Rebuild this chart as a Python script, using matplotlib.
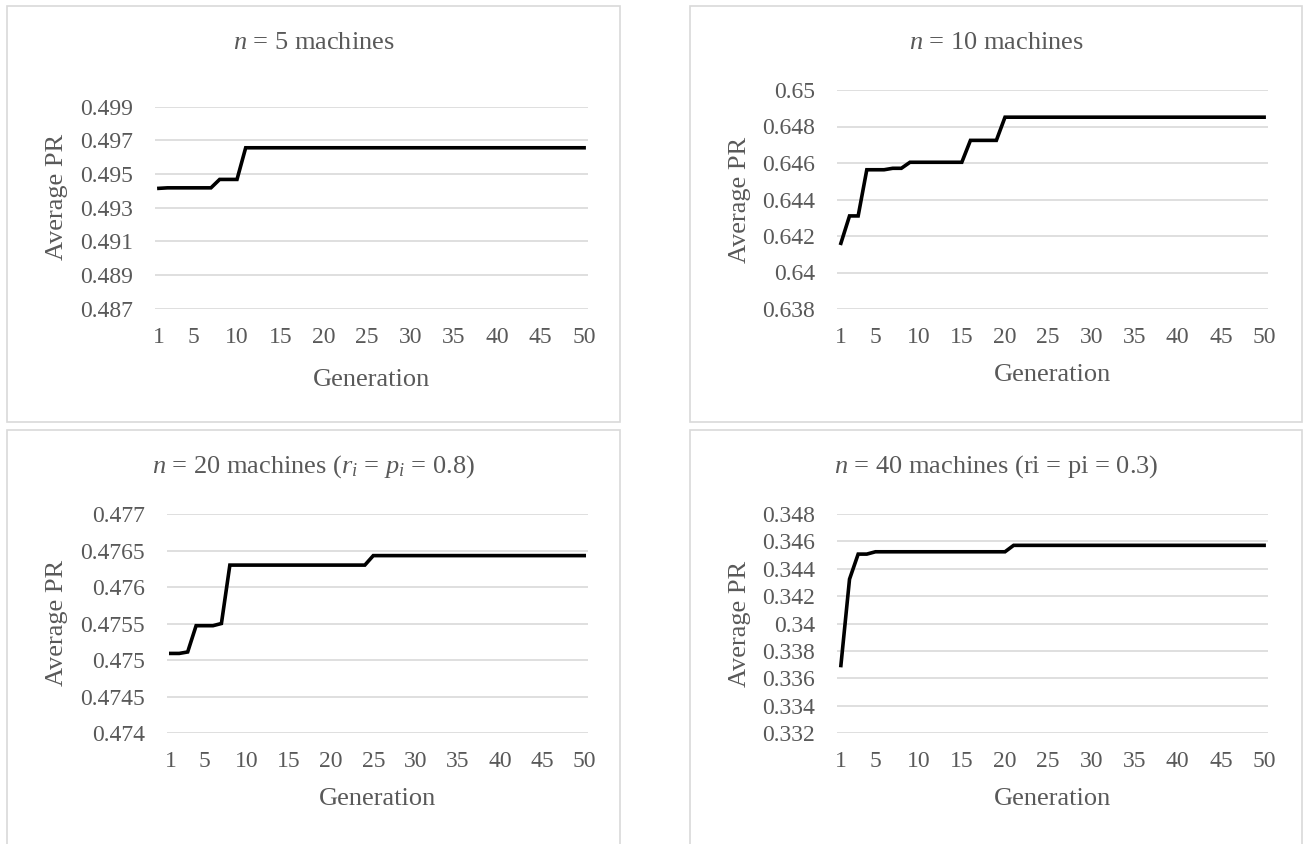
import matplotlib
matplotlib.use("Agg")
import matplotlib.pyplot as plt
from matplotlib.patches import Rectangle

# ---- data (average PR per generation) ----
generations = list(range(1, 51))
xtick_values = [1, 5, 10, 15, 20, 25, 30, 35, 40, 45, 50]

pr_n5 = [
    0.49415, 0.49418, 0.49418, 0.49418, 0.49418, 0.49418, 0.49418, 0.49468, 0.49468, 0.49468,
    0.49656, 0.49656, 0.49656, 0.49656, 0.49656, 0.49656, 0.49656, 0.49656, 0.49656, 0.49656,
    0.49656, 0.49656, 0.49656, 0.49656, 0.49656, 0.49656, 0.49656, 0.49656, 0.49656, 0.49656,
    0.49656, 0.49656, 0.49656, 0.49656, 0.49656, 0.49656, 0.49656, 0.49656, 0.49656, 0.49656,
    0.49656, 0.49656, 0.49656, 0.49656, 0.49656, 0.49656, 0.49656, 0.49656, 0.49656, 0.49656,
]
pr_n10 = [
    0.64160, 0.64310, 0.64310, 0.64563, 0.64563, 0.64563, 0.64571, 0.64571, 0.64604, 0.64604,
    0.64604, 0.64604, 0.64604, 0.64604, 0.64604, 0.64724, 0.64724, 0.64724, 0.64724, 0.64851,
    0.64851, 0.64851, 0.64851, 0.64851, 0.64851, 0.64851, 0.64851, 0.64851, 0.64851, 0.64851,
    0.64851, 0.64851, 0.64851, 0.64851, 0.64851, 0.64851, 0.64851, 0.64851, 0.64851, 0.64851,
    0.64851, 0.64851, 0.64851, 0.64851, 0.64851, 0.64851, 0.64851, 0.64851, 0.64851, 0.64851,
]
pr_n20 = [
    0.47509, 0.47509, 0.47511, 0.47547, 0.47547, 0.47547, 0.47550, 0.47630, 0.47630, 0.47630,
    0.47630, 0.47630, 0.47630, 0.47630, 0.47630, 0.47630, 0.47630, 0.47630, 0.47630, 0.47630,
    0.47630, 0.47630, 0.47630, 0.47630, 0.47643, 0.47643, 0.47643, 0.47643, 0.47643, 0.47643,
    0.47643, 0.47643, 0.47643, 0.47643, 0.47643, 0.47643, 0.47643, 0.47643, 0.47643, 0.47643,
    0.47643, 0.47643, 0.47643, 0.47643, 0.47643, 0.47643, 0.47643, 0.47643, 0.47643, 0.47643,
]
pr_n40 = [
    0.33693, 0.34324, 0.34507, 0.34507, 0.34524, 0.34524, 0.34524, 0.34524, 0.34524, 0.34524,
    0.34524, 0.34524, 0.34524, 0.34524, 0.34524, 0.34524, 0.34524, 0.34524, 0.34524, 0.34524,
    0.34571, 0.34571, 0.34571, 0.34571, 0.34571, 0.34571, 0.34571, 0.34571, 0.34571, 0.34571,
    0.34571, 0.34571, 0.34571, 0.34571, 0.34571, 0.34571, 0.34571, 0.34571, 0.34571, 0.34571,
    0.34571, 0.34571, 0.34571, 0.34571, 0.34571, 0.34571, 0.34571, 0.34571, 0.34571, 0.34571,
]

yticks_n5 = [0.487, 0.489, 0.491, 0.493, 0.495, 0.497, 0.499]
ytick_labels_n5 = ["0.487", "0.489", "0.491", "0.493", "0.495", "0.497", "0.499"]
yticks_n10 = [0.638, 0.640, 0.642, 0.644, 0.646, 0.648, 0.650]
ytick_labels_n10 = ["0.638", "0.64", "0.642", "0.644", "0.646", "0.648", "0.65"]
yticks_n20 = [0.474, 0.4745, 0.475, 0.4755, 0.476, 0.4765, 0.477]
ytick_labels_n20 = ["0.474", "0.4745", "0.475", "0.4755", "0.476", "0.4765", "0.477"]
yticks_n40 = [0.332, 0.334, 0.336, 0.338, 0.340, 0.342, 0.344, 0.346, 0.348]
ytick_labels_n40 = ["0.332", "0.334", "0.336", "0.338", "0.34", "0.342", "0.344", "0.346", "0.348"]

titles = [
    r"$n$ = 5 machines",
    r"$n$ = 10 machines",
    r"$n$ = 20 machines ($r_i$ = $p_i$ = 0.8)",
    r"$n$ = 40 machines (ri = pi = 0.3)",
]

# ---- style ----
W, H = 1304, 844
text_color = "#595959"
grid_color = "#D9D9D9"
plt.rcParams["font.family"] = ["Liberation Serif", "DejaVu Serif"]
plt.rcParams["mathtext.fontset"] = "custom"
plt.rcParams["mathtext.rm"] = "Liberation Serif"
plt.rcParams["mathtext.it"] = "Liberation Serif:italic"

fig = plt.figure(figsize=(W / 100, H / 100), dpi=100)

# chart boxes (pixels: left, top, right, bottom)
boxes = [(7, 6, 620, 422), (690, 6, 1302, 422), (7, 430, 620, 846), (690, 430, 1302, 846)]
# plot areas (pixels: left, top, right, bottom)
areas = [(155, 106.7, 588, 308.7), (837, 90, 1268, 309), (167, 514, 588, 733), (837, 514, 1268, 733)]
title_y = [43, 43, 467, 467]
xlabel_y = [380, 375, 799, 799]
ylabel_y = [197, 200, 623, 624]

series = [pr_n5, pr_n10, pr_n20, pr_n40]
yticks = [yticks_n5, yticks_n10, yticks_n20, yticks_n40]
ylabels = [ytick_labels_n5, ytick_labels_n10, ytick_labels_n20, ytick_labels_n40]

for i in range(4):
    bl, bt, br, bb = boxes[i]
    fig.patches.append(Rectangle((bl / W, 1 - bb / H), (br - bl) / W, (bb - bt) / H,
                                 transform=fig.transFigure, fill=False,
                                 edgecolor=grid_color, linewidth=1.2))
    l, t, r, b = areas[i]
    ax = fig.add_axes([l / W, 1 - b / H, (r - l) / W, (b - t) / H])
    ax.plot(generations, series[i], color="black", linewidth=2.6, solid_joinstyle="miter")
    ax.set_xlim(0.55, 50.45)
    ax.set_ylim(yticks[i][0], yticks[i][-1])
    ax.set_xticks(xtick_values)
    ax.set_yticks(yticks[i])
    ax.set_yticklabels(ylabels[i])
    ax.grid(axis="y", color=grid_color, linewidth=1.2)
    ax.set_axisbelow(True)
    for s in ax.spines.values():
        s.set_visible(False)
    ax.tick_params(axis="both", length=0, labelsize=17, labelcolor=text_color)
    ax.tick_params(axis="x", pad=13)
    ax.tick_params(axis="y", pad=16)
    ax.set_xlabel("Generation", fontsize=19, color=text_color, va="center")
    ax.set_ylabel("Average PR", fontsize=19, color=text_color, va="center")
    ax.xaxis.set_label_coords(0.5, -(xlabel_y[i] - b) / (b - t))
    ax.yaxis.set_label_coords(-(l - bl - 50) / (r - l), (b - ylabel_y[i]) / (b - t))
    fig.text((bl + br) / 2 / W, 1 - title_y[i] / H, titles[i], fontsize=19,
             color=text_color, ha="center", va="center")

fig.savefig("out.png", dpi=100)
